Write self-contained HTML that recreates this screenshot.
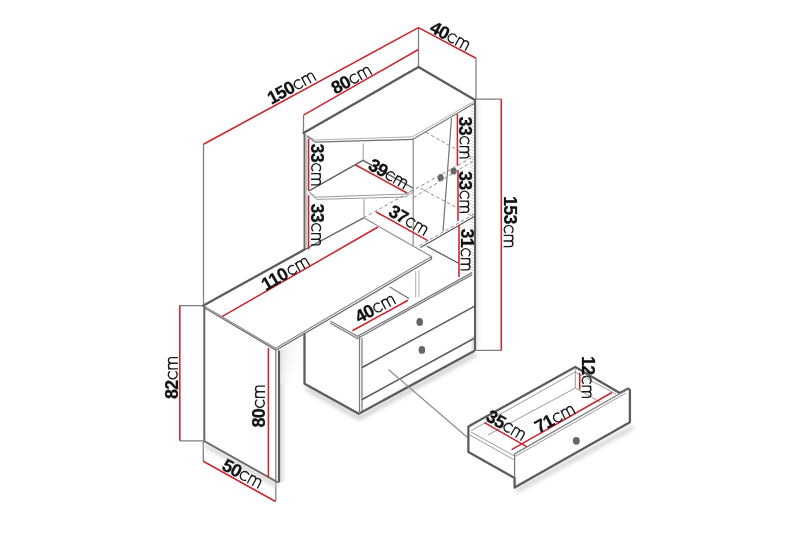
<!DOCTYPE html>
<html><head><meta charset="utf-8">
<style>
html,body{margin:0;padding:0;background:#fff;width:800px;height:533px;overflow:hidden}
svg{display:block;will-change:transform}
text{font-family:"Liberation Sans",sans-serif;font-size:18.0px;fill:#111}
.b{font-weight:bold;stroke:#111;stroke-width:0.25}
.d{stroke:#5c5c5c;stroke-width:2.3;fill:none;stroke-linejoin:round;stroke-linecap:round}
.g{stroke:#7e7e7e;stroke-width:1.25;fill:none}
.l{stroke:#b0b0b0;stroke-width:1;fill:none}
.r{stroke:#c8262f;stroke-width:1.55;fill:none}
.ds{stroke:#8c8c8c;stroke-width:1;fill:none;stroke-dasharray:3.5 2.5}
</style></head>
<body>
<svg width="800" height="533" viewBox="0 0 800 533">
<!-- extension lines -->
<path class="g" d="M203.5,144.2V305.6 M303.5,115.2V133 M418.5,27.6V67 M476,58.3V100 M475,99H501.3 M474.5,350.4H501.3 M179.8,305.6H203.3 M179.8,440.8H203.3 M203.3,440.8V461.4 M275.8,482V501.5"/>

<!-- shelf top panel -->
<path class="d" d="M303.5,133L418.5,67L475,100"/>
<path class="l" d="M305.5,134.5L314.8,140L412.4,136.8L474.3,101.2"/><path style="stroke:#707070;stroke-width:1.2;fill:none" d="M307,136.3L315.5,142.2L412.6,139.4L474,103.6"/>
<!-- left panel -->
<path style="stroke:#6a6a6a;stroke-width:2;fill:none" d="M304.5,133.5V250"/>
<path class="l" d="M306.8,136V247"/>
<!-- right panel -->
<defs><linearGradient id="rg" x1="0" x2="1" y1="0" y2="0"><stop offset="0" stop-color="#e2e2e2"/><stop offset="1" stop-color="#fff" stop-opacity="0"/></linearGradient>
<linearGradient id="lg2" x1="1" x2="0" y1="0" y2="0"><stop offset="0" stop-color="#d5d5d5"/><stop offset="1" stop-color="#fff" stop-opacity="0"/></linearGradient></defs>
<rect x="476" y="101" width="7" height="249" fill="url(#rg)"/>
<path style="stroke:#bdbdbd;stroke-width:1;stroke-dasharray:1.2 1.8;fill:none" d="M471,104V272 M472.8,105V272"/>
<rect x="468" y="336" width="6" height="14" fill="url(#lg2)"/>
<path style="stroke:#5e5e5e;stroke-width:2.1;fill:none" d="M475,100V351"/>
<!-- back corner verticals -->
<path class="l" style="stroke:#999" d="M363.2,143.3V160.3 M364,199V217.7"/><path style="stroke:#808080;stroke-width:1.1;fill:none" d="M413.2,138.5V245.5"/>
<!-- middle triangular shelf -->
<path style="stroke:#606060;stroke-width:1.4;fill:none" d="M309,190.8L363,160.3L413,188"/>
<path class="l" style="stroke:#9a9a9a" d="M309,191.5L316,197.2L406.3,194L413,189.5 M309.5,193L316.5,199.4L404.8,197L413,192"/>
<!-- door -->
<path class="g" style="stroke:#777" d="M451.5,118.3L443,231.2"/>
<ellipse cx="453.6" cy="171" rx="3.1" ry="3.6" fill="#666"/>
<ellipse cx="440.6" cy="177.7" rx="3.1" ry="3.6" fill="#666"/>
<!-- dashed shelves behind door -->
<path class="ds" d="M426,132.4L474,159 M363.6,217.8L474,156.3 M413.5,197.5L474,160.5 M420.5,188.2L474,217 M419.5,245.6L474,214.2"/>
<!-- bottom shelf back edges -->
<path style="stroke:#6a6a6a;stroke-width:1.5;fill:none" d="M363.6,217.8L304.6,249.6"/>
<path style="stroke:#555;stroke-width:1.2;fill:none" d="M420.5,247.6L474.4,216.5 M427,246.3L458.6,263.3"/>

<!-- desk top -->
<path class="d" d="M203.4,305.6L304.6,249.5"/>
<path style="stroke:#8a8a8a;stroke-width:1.1;fill:none" d="M363.6,217.8L431.5,256.5 M203.4,305.6L275.6,348.3L431.5,256.5"/><path style="stroke:#6a6a6a;stroke-width:1.3;fill:none" d="M431.5,256.5V259L276,350.3L204.8,308"/>
<!-- desk support -->
<path class="l" d="M415.7,271V297.5 M419,270V297"/>

<!-- leg panel -->
<defs><linearGradient id="lg" x1="0" x2="1" y1="0" y2="0"><stop offset="0" stop-color="#d8d8d8"/><stop offset="1" stop-color="#fff" stop-opacity="0"/></linearGradient></defs>
<rect x="280" y="350" width="9" height="132" fill="url(#lg)"/><linearGradient id="ug" x1="0" x2="1" y1="0" y2="0.6"><stop offset="0" stop-color="#e2e2e2"/><stop offset="1" stop-color="#fff" stop-opacity="0"/></linearGradient><polygon points="279.5,351 304,336.5 304,384 279.5,384" fill="url(#ug)"/>
<path style="stroke:#666;stroke-width:2;fill:none" d="M204.3,306V441"/>
<path filter="url(#bl)" style="stroke:#d0d0d0;stroke-width:4;fill:none" d="M205,445L278,486"/><path style="stroke:#666;stroke-width:2;fill:none" d="M204,441L278,482.5"/>
<path class="g" d="M275.8,350.4V481"/>
<path style="stroke:#5a5a5a;stroke-width:2.2;fill:none" d="M279,350.5V482.5"/>

<!-- cabinet -->
<filter id="bl" x="-10%" y="-50%" width="120%" height="200%"><feGaussianBlur stdDeviation="2"/></filter>
<path filter="url(#bl)" style="stroke:#c8c8c8;stroke-width:4;fill:none" d="M306,388L359,418L476,354"/>
<path class="d" d="M304.5,334V383.75L358.75,413.75L473.75,351.25"/>
<path class="g" d="M330.4,321L357.4,336.4L472.3,272.4 M330,323L357.4,338.5L472.3,274.6 M359.5,336V413.75 M362,338V411 M389.5,286.7L409,298.6"/>
<path class="d" style="stroke-width:1.6" d="M362.5,367.3L474.3,306.4 M362.5,399.3L474.3,338.3"/>
<ellipse cx="419.7" cy="322" rx="3.3" ry="3.9" fill="#666"/>
<ellipse cx="421.9" cy="349.9" rx="3.3" ry="3.9" fill="#666"/>
<path style="stroke:#8a8a8a;stroke-width:1.1;fill:none" d="M388.5,369.5L467.5,437.5"/>

<!-- drawer -->
<path filter="url(#bl)" style="stroke:#cfcfcf;stroke-width:4;fill:none" d="M516,491L633,427"/>
<path class="d" d="M468.4,452V426.6L575.3,366.9L619.7,393L628.3,388.6L629.9,390V422.3L514.6,487.6V478L468.4,452"/>
<path style="stroke:#7a7a7a;stroke-width:1.3;fill:none" d="M514.6,478V454L628,389"/>
<path class="l" style="stroke:#999" d="M471.3,430.5L575.3,372L616,394 M471,432L514.4,456 M470,435L514.4,460 M575.3,369.4V388 M575.3,388L488,435 M575.3,388L600,402 M514.6,456.8L626,393"/>
<ellipse cx="576.3" cy="440.8" rx="3.5" ry="3.9" fill="#666"/>

<!-- red dims -->
<path class="r" d="M203.5,144.2L418.5,27.6 M303.5,115.2L418.5,49.5 M418.5,27.6L476,58.3 M501.3,99V350.4 M179.8,305.6V440.8 M203.3,461.2L275.5,501.5 M268.4,348V478 M222,316.7L378,227 M352.4,330.7L408,300.3 M308.6,138.8V190.8 M308.6,195.2V249.5 M355.2,164.8L407,193 M376.3,212L427.8,240.6 M457.4,114V165.8 M458,170V220.8 M459,225V277 M511.6,449.6L612,392.5 M484.5,422.6L526.6,446.6 M579.7,373V389.5"/>

<!-- labels -->
<defs><path id="cm" d="M7.89,-7.96A4.3,4.45 0 1 0 7.89,-2.24M10.4,0V-9.8M10.4,-6.6A2.8,2.8 0 0 1 16,-6.6V0M16,-6.6A2.8,2.8 0 0 1 21.6,-6.6V0" style="fill:none;stroke:#1a1a1a;stroke-width:1.35"/></defs>
<g transform="translate(290.90,86.80) rotate(-28.5)"><text class="b" x="-25.71" y="6.45" letter-spacing="-0.7">150</text><use href="#cm" x="3.41" y="6.45"/></g>
<g transform="translate(350.90,79.00) rotate(-29)"><text class="b" x="-21.06" y="6.45" letter-spacing="-0.7">80</text><use href="#cm" x="-1.24" y="6.45"/></g>
<g transform="translate(450.10,35.50) rotate(28)"><text class="b" x="-21.06" y="6.45" letter-spacing="-0.7">40</text><use href="#cm" x="-1.24" y="6.45"/></g>
<g transform="translate(317.50,164.50) rotate(90)"><text class="b" x="-21.06" y="6.45" letter-spacing="-0.7">33</text><use href="#cm" x="-1.24" y="6.45"/></g>
<g transform="translate(317.50,224.50) rotate(90)"><text class="b" x="-21.06" y="6.45" letter-spacing="-0.7">33</text><use href="#cm" x="-1.24" y="6.45"/></g>
<g transform="translate(388.37,173.37) rotate(30)"><text class="b" x="-21.06" y="6.45" letter-spacing="-0.7">39</text><use href="#cm" x="-1.24" y="6.45"/></g>
<g transform="translate(408.60,219.80) rotate(30)"><text class="b" x="-21.06" y="6.45" letter-spacing="-0.7">37</text><use href="#cm" x="-1.24" y="6.45"/></g>
<g transform="translate(465.80,137.50) rotate(90)"><text class="b" x="-21.06" y="6.45" letter-spacing="-0.7">33</text><use href="#cm" x="-1.24" y="6.45"/></g>
<g transform="translate(465.80,192.00) rotate(90)"><text class="b" x="-21.06" y="6.45" letter-spacing="-0.7">33</text><use href="#cm" x="-1.24" y="6.45"/></g>
<g transform="translate(467.00,249.50) rotate(90)"><text class="b" x="-21.06" y="6.45" letter-spacing="-0.7">31</text><use href="#cm" x="-1.24" y="6.45"/></g>
<g transform="translate(510.00,221.60) rotate(90)"><text class="b" x="-25.71" y="6.45" letter-spacing="-0.7">153</text><use href="#cm" x="3.41" y="6.45"/></g>
<g transform="translate(284.90,272.70) rotate(-30)"><text class="b" x="-25.71" y="6.45" letter-spacing="-0.7">110</text><use href="#cm" x="3.41" y="6.45"/></g>
<g transform="translate(374.62,307.87) rotate(-28)"><text class="b" x="-21.06" y="6.45" letter-spacing="-0.7">40</text><use href="#cm" x="-1.24" y="6.45"/></g>
<g transform="translate(171.40,378.00) rotate(-90)"><text class="b" x="-21.06" y="6.45" letter-spacing="-0.7">82</text><use href="#cm" x="-1.24" y="6.45"/></g>
<g transform="translate(258.50,406.50) rotate(-90)"><text class="b" x="-21.06" y="6.45" letter-spacing="-0.7">80</text><use href="#cm" x="-1.24" y="6.45"/></g>
<g transform="translate(242.30,473.20) rotate(28)"><text class="b" x="-21.06" y="6.45" letter-spacing="-0.7">50</text><use href="#cm" x="-1.24" y="6.45"/></g>
<g transform="translate(588.00,377.00) rotate(90)"><text class="b" x="-21.06" y="6.45" letter-spacing="-0.7">12</text><use href="#cm" x="-1.24" y="6.45"/></g>
<g transform="translate(554.30,417.80) rotate(-28)"><text class="b" x="-21.06" y="6.45" letter-spacing="-0.7">71</text><use href="#cm" x="-1.24" y="6.45"/></g>
<g transform="translate(506.10,424.80) rotate(30)"><text class="b" x="-21.06" y="6.45" letter-spacing="-0.7">35</text><use href="#cm" x="-1.24" y="6.45"/></g>
</svg>
</body></html>
